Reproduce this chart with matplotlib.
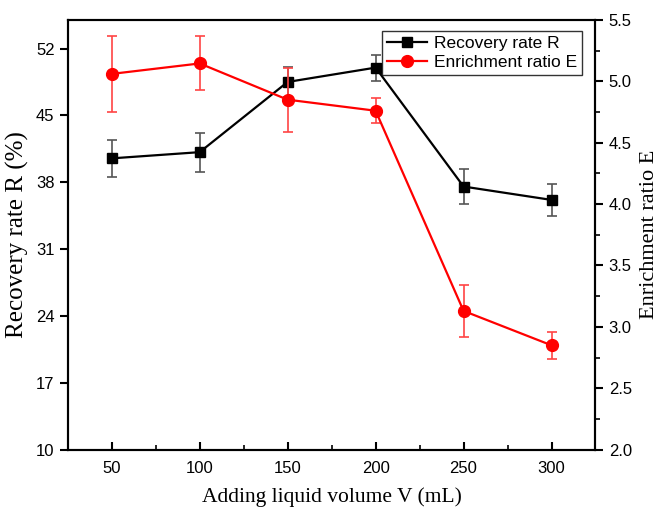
import matplotlib
matplotlib.use("Agg")
import matplotlib.pyplot as plt
from matplotlib.ticker import MultipleLocator, FormatStrFormatter

# ── data ──────────────────────────────────────────────────────
volume = [50, 100, 150, 200, 250, 300]                 # mL
recovery = [40.5, 41.15, 48.5, 50.0, 37.55, 36.15]     # %
recovery_err = [1.9, 2.05, 1.6, 1.35, 1.8, 1.7]
enrichment = [5.06, 5.145, 4.85, 4.76, 3.13, 2.85]
enrichment_err = [0.31, 0.22, 0.26, 0.10, 0.21, 0.11]

x_ticks = [50, 100, 150, 200, 250, 300]
left_ticks = [10, 17, 24, 31, 38, 45, 52]

SANS = ["Liberation Sans", "DejaVu Sans"]
SERIF = ["Liberation Serif", "DejaVu Serif"]
plt.rcParams["font.family"] = SANS

fig = plt.figure(figsize=(6.58, 5.09), dpi=100)
ax = fig.add_axes([0.103, 0.1165, 0.802, 0.8445])
ax2 = ax.twinx()

# recovery rate (left axis)
rec = ax.errorbar(volume, recovery, yerr=recovery_err, color="black", lw=1.6,
                  marker="s", ms=7.5, capsize=3.5, elinewidth=1.2,
                  capthick=1.2, ecolor="#555555", zorder=3)
# enrichment ratio (right axis)
enr = ax2.errorbar(volume, enrichment, yerr=enrichment_err, color="red",
                   lw=1.6, marker="o", ms=8.5, capsize=3.5, elinewidth=1.2,
                   capthick=1.2, ecolor="#ff4444", zorder=3)

ax.set_xlim(25, 325)
ax.set_ylim(10, 55)
ax2.set_ylim(2.0, 5.5)
ax.set_xticks(x_ticks)
ax.xaxis.set_minor_locator(MultipleLocator(25))
ax.set_yticks(left_ticks)
ax2.yaxis.set_major_locator(MultipleLocator(0.5))
ax2.yaxis.set_minor_locator(MultipleLocator(0.25))
ax2.yaxis.set_major_formatter(FormatStrFormatter("%.1f"))

for a in (ax, ax2):
    for s in a.spines.values():
        s.set_linewidth(1.5)

ax.tick_params(axis="x", which="major", direction="in", length=6, width=1.5,
               labelsize=12, pad=8, top=False)
ax.tick_params(axis="x", which="minor", direction="in", length=3.5, width=1.2,
               top=False)
ax.tick_params(axis="y", which="major", direction="out", length=6, width=1.5,
               labelsize=12, right=False)
ax2.tick_params(axis="y", which="major", direction="out", length=6, width=1.5,
                labelsize=12)
ax2.tick_params(axis="y", which="minor", direction="out", length=3.5, width=1.2)

ax.set_xlabel("Adding liquid volume V (mL)", family=SERIF, fontsize=15.5,
              labelpad=8)
ax.set_ylabel("Recovery rate R (%)", family=SERIF, fontsize=18, labelpad=5)
ax2.set_ylabel("Enrichment ratio E", family=SERIF, fontsize=16, labelpad=6)

# legend shows line + marker only (no error bars)
leg = ax2.legend([rec[0], enr[0]], ["Recovery rate R", "Enrichment ratio E"],
                 loc="upper right", bbox_to_anchor=(0.975, 0.975),
                 borderaxespad=0, fontsize=12.5, frameon=True,
                 fancybox=False, edgecolor="black", handlelength=2.3,
                 borderpad=0.3, labelspacing=0.2, handletextpad=0.4)
leg.get_frame().set_linewidth(1.0)

fig.savefig("out.png", dpi=100, facecolor="white")
plt.close(fig)
